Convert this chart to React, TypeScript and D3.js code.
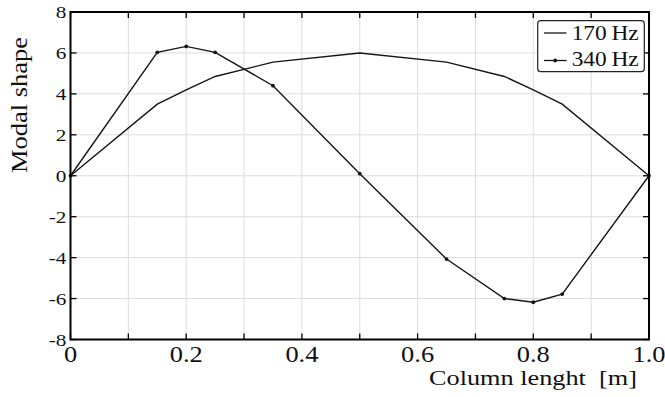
import React from "react";
import * as d3 from "d3";

const positions = [0, 0.15, 0.2, 0.25, 0.35, 0.5, 0.65, 0.75, 0.8, 0.85, 1.0];
const mode170 = [0, 3.5, 4.2, 4.85, 5.55, 6.0, 5.55, 4.85, 4.2, 3.5, 0];
const mode340 = [0, 6.03, 6.32, 6.03, 4.4, 0.1, -4.07, -6.0, -6.18, -5.78, 0];
const xGrid = [0, 0.1, 0.2, 0.3, 0.4, 0.5, 0.6, 0.7, 0.8, 0.9, 1.0];
const xLabels = ["0", "0.2", "0.4", "0.6", "0.8", "1.0"];
const yTicks = [-8, -6, -4, -2, 0, 2, 4, 6, 8];
const legendLabels = ["170\u2009Hz", "340\u2009Hz"];

const W = 665;
const H = 397;
const L = 70.5, R = 649, T = 12, B = 339.5;
const FONT = "'Liberation Serif', 'Times New Roman', serif";

export default function App() {
  const x = d3.scaleLinear().domain([0, 1]).range([L, R]);
  const y = d3.scaleLinear().domain([-8, 8]).range([B, T]);
  const line = d3
    .line<number>()
    .x((_, i) => x(positions[i]))
    .y((d) => y(d));
  const ink = "#151515";
  return (
    <svg
      width={W}
      height={H}
      style={{ position: "absolute", left: 0, top: 0, background: "#fff" }}
    >
      <rect x={0} y={0} width={W} height={H} fill="#fff" />
      {/* grid */}
      {xGrid.map((g) => (
        <line key={"gx" + g} x1={x(g)} x2={x(g)} y1={T} y2={B} stroke="#dcdcdc" strokeWidth={1} />
      ))}
      {yTicks.map((g) => (
        <line key={"gy" + g} x1={L} x2={R} y1={y(g)} y2={y(g)} stroke="#dcdcdc" strokeWidth={1} />
      ))}
      {/* ticks */}
      {xGrid.map((g) => (
        <g key={"tx" + g}>
          <line x1={x(g)} x2={x(g)} y1={B} y2={B - 6} stroke="#000" strokeWidth={1.3} />
          <line x1={x(g)} x2={x(g)} y1={T} y2={T + 6} stroke="#000" strokeWidth={1.3} />
        </g>
      ))}
      {yTicks.map((g) => (
        <g key={"ty" + g}>
          <line x1={L} x2={L + 6} y1={y(g)} y2={y(g)} stroke="#000" strokeWidth={1.3} />
          <line x1={R} x2={R - 6} y1={y(g)} y2={y(g)} stroke="#000" strokeWidth={1.3} />
        </g>
      ))}
      {/* lines */}
      <path d={line(mode170) || ""} fill="none" stroke={ink} strokeWidth={1.4} />
      <path d={line(mode340) || ""} fill="none" stroke={ink} strokeWidth={1.4} />
      {mode340.map((v, i) => (
        <circle key={"m" + i} cx={x(positions[i])} cy={y(v)} r={1.9} fill={ink} />
      ))}
      {/* frame */}
      <rect x={L} y={T} width={R - L} height={B - T} fill="none" stroke="#000" strokeWidth={2} />
      {/* y tick labels */}
      {yTicks.map((g) => (
        <text
          key={"ly" + g}
          transform={`translate(66.5,${y(g) + 6}) scale(1.25,1)`}
          textAnchor="end"
          fontFamily={FONT}
          fontSize={17}
          fill="#111"
        >
          {g < 0 ? "-" + Math.abs(g) : String(g)}
        </text>
      ))}
      {/* x tick labels */}
      {xLabels.map((s) => (
        <text
          key={"lx" + s}
          transform={`translate(${x(+s)},362) scale(1.15,1)`}
          textAnchor="middle"
          fontFamily={FONT}
          fontSize={23}
          fill="#111"
        >
          {s}
        </text>
      ))}
      {/* axis titles */}
      <text
        x={429}
        y={385}
        fontFamily={FONT}
        fontSize={20}
        textLength={208}
        lengthAdjust="spacingAndGlyphs"
        fill="#111"
        style={{ whiteSpace: "pre" }}
      >
        {"Column lenght  [m]"}
      </text>
      <text
        transform="translate(26.5,173) rotate(-90) scale(1,1.2)"
        fontFamily={FONT}
        fontSize={20}
        textLength={136}
        lengthAdjust="spacingAndGlyphs"
        fill="#111"
      >
        Modal shape
      </text>
      {/* legend */}
      <rect x={537.7} y={20.7} width={106.6} height={51} rx={3} fill="#fff" stroke="#222" strokeWidth={1.2} />
      <line x1={544} x2={566.5} y1={33} y2={33} stroke={ink} strokeWidth={1.3} />
      <line x1={544} x2={566.5} y1={60.5} y2={60.5} stroke={ink} strokeWidth={1.3} />
      <circle cx={555.2} cy={60.5} r={1.9} fill={ink} />
      {legendLabels.map((s, i) => (
        <text
          key={s}
          x={571.7}
          y={39.7 + i * 26}
          fontFamily={FONT}
          fontSize={21}
          textLength={67}
          lengthAdjust="spacingAndGlyphs"
          fill="#111"
        >
          {s}
        </text>
      ))}
    </svg>
  );
}
